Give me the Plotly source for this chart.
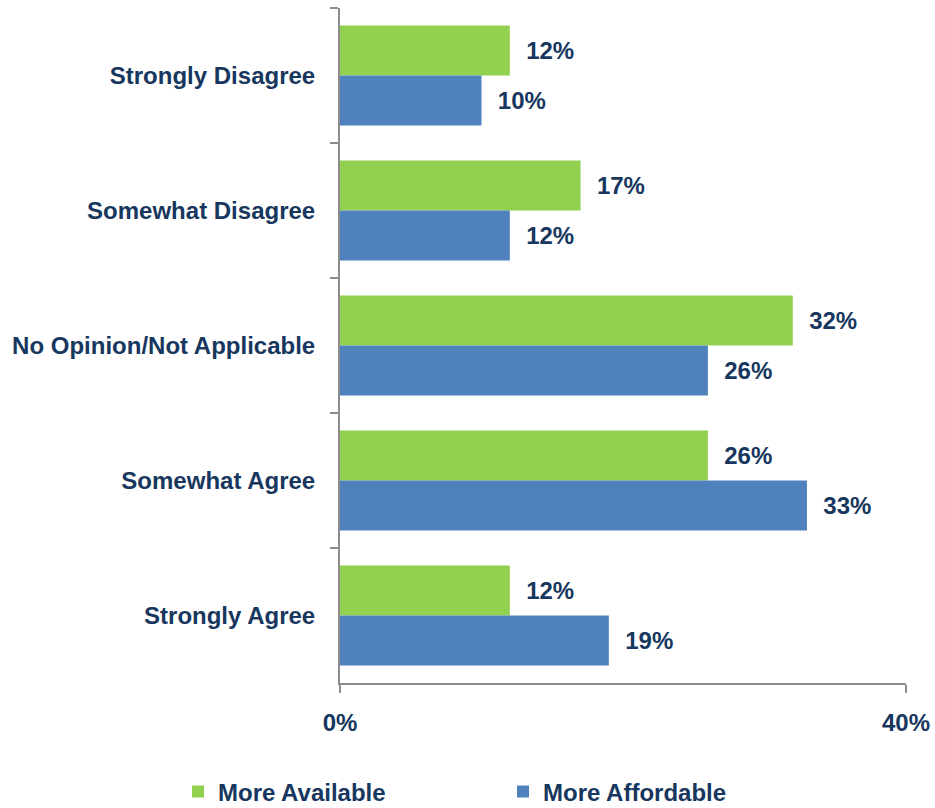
import plotly.graph_objects as go

categories = ["Strongly Disagree", "Somewhat Disagree", "No Opinion/Not Applicable",
              "Somewhat Agree", "Strongly Agree"]
more_available = [12, 17, 32, 26, 12]
more_affordable = [10, 12, 26, 33, 19]
x_ticks = [0, 40]
x_tick_labels = ["0%", "40%"]

NAVY = "#17375E"
GREEN = "#92D050"
BLUE = "#4F81BD"
AXIS = "#8C8C8C"
FONT = "Liberation Sans, Arial, sans-serif"
FS = 24
NB = "\u00a0"

fig = go.Figure()
fig.add_trace(go.Bar(
    y=categories, x=more_available, orientation="h", name="More Available",
    marker=dict(color=GREEN, line=dict(width=0)),
    text=[NB * 2 + f"{v}%" for v in more_available], textposition="outside",
    textfont=dict(family=FONT, size=FS, color=NAVY, weight="bold"),
    constraintext="none", cliponaxis=False,
))
fig.add_trace(go.Bar(
    y=categories, x=more_affordable, orientation="h", name="More Affordable",
    marker=dict(color=BLUE, line=dict(width=0)),
    text=[NB * 2 + f"{v}%" for v in more_affordable], textposition="outside",
    textfont=dict(family=FONT, size=FS, color=NAVY, weight="bold"),
    constraintext="none", cliponaxis=False,
))

fig.update_layout(
    width=935, height=808,
    margin=dict(l=340, r=29, t=8, b=125, autoexpand=False),
    barmode="group", bargap=0.26, bargroupgap=0,
    plot_bgcolor="white", paper_bgcolor="white",
    font=dict(family=FONT, size=FS, color=NAVY, weight="bold"),
    xaxis=dict(
        range=[0, 40], tickvals=x_ticks, ticktext=x_tick_labels,
        showgrid=False, zeroline=False, automargin=False,
        showline=True, linecolor=AXIS, linewidth=2,
        ticks="outside", ticklen=8, tickcolor=AXIS, tickwidth=2,
        ticklabelstandoff=9,
        tickfont=dict(family=FONT, size=FS, color=NAVY, weight="bold"),
    ),
    yaxis=dict(
        categoryorder="array", categoryarray=categories, autorange="reversed",
        showgrid=False, zeroline=False, automargin=False,
        showline=True, linecolor=AXIS, linewidth=2,
        ticks="outside", ticklen=8, tickcolor=AXIS, tickwidth=2,
        tickson="boundaries", ticklabelstandoff=18,
        tickfont=dict(family=FONT, size=FS, color=NAVY, weight="bold"),
    ),
    legend=dict(
        orientation="h", xref="paper", yref="paper",
        x=(178 - 340) / 566, y=(683 - 792) / 675, xanchor="left", yanchor="middle",
        entrywidth=280, entrywidthmode="pixels",
        font=dict(family=FONT, size=FS, color=NAVY, weight="bold"),
        bgcolor="rgba(0,0,0,0)", traceorder="normal",
    ),
)

fig.write_html("out.html")
